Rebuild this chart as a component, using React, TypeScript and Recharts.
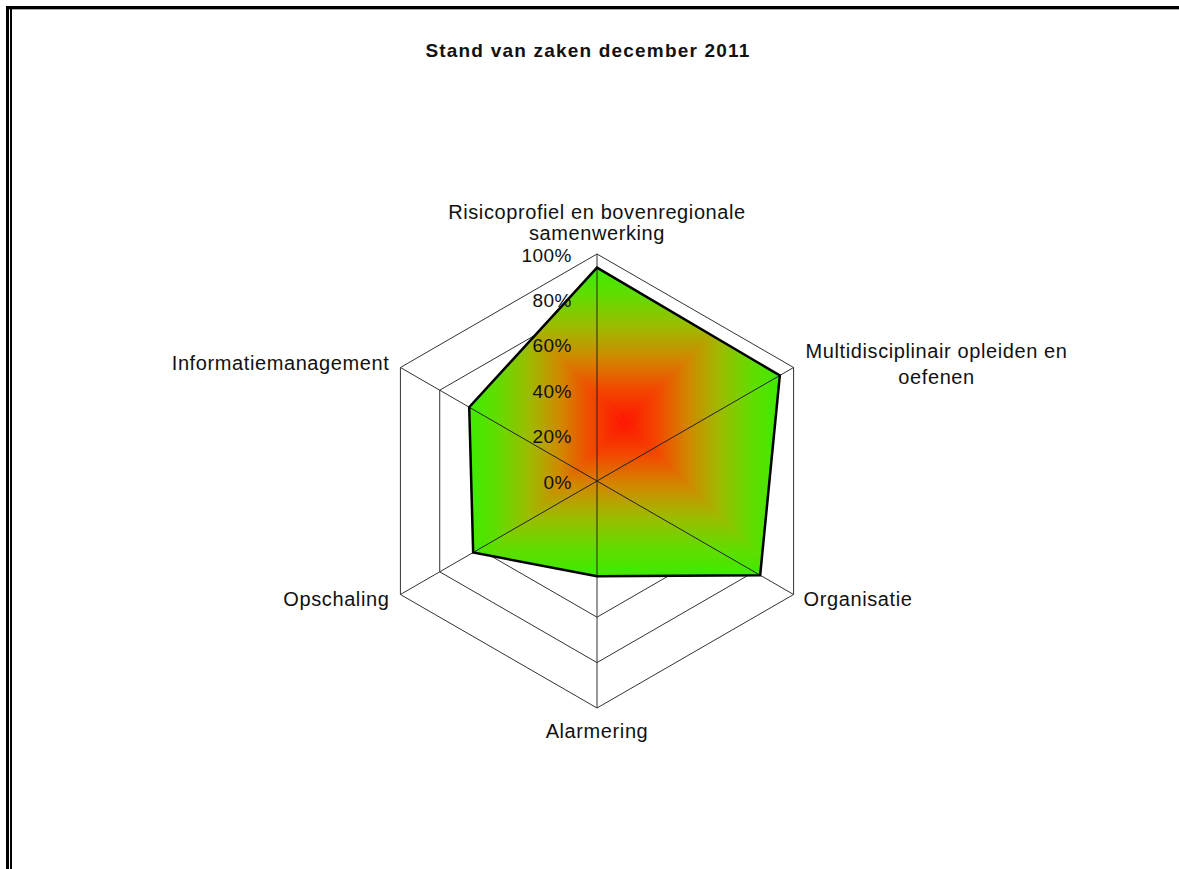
import { RadarChart, Radar, PolarGrid, PolarAngleAxis, PolarRadiusAxis } from "recharts";

const categories = [
  "Risicoprofiel en bovenregionale samenwerking",
  "Multidisciplinair opleiden en oefenen",
  "Organisatie",
  "Alarmering",
  "Opschaling",
  "Informatiemanagement",
];
const scores = [94, 93, 83, 42, 63, 65];
const radiusTicks = [0, 20, 40, 60, 80, 100];
const title = "Stand van zaken december 2011";

const CX = 597;
const CY = 481;
const R = 227;
const FONT = '"Liberation Sans", Arial, sans-serif';
const LABEL_SIZE = 20;
const LABEL_SPACING = 0.6;

const data = categories.map((name, i) => ({ name, score: scores[i] }));

let ctx: CanvasRenderingContext2D | null = null;
const textWidth = (s: string) => {
  if (!ctx) ctx = document.createElement("canvas").getContext("2d");
  if (!ctx) return s.length * 10;
  ctx.font = `${LABEL_SIZE}px ${FONT}`;
  return ctx.measureText(s).width + LABEL_SPACING * s.length;
};

// greedy word wrap, like excel does for long category names
const wrap = (s: string, max: number) => {
  const words = s.split(" ");
  const lines: string[] = [];
  let cur = "";
  for (const w of words) {
    const next = cur ? cur + " " + w : w;
    if (cur && textWidth(next) > max) {
      lines.push(cur);
      cur = w;
    } else cur = next;
  }
  if (cur) lines.push(cur);
  return lines;
};

function AngleTick(props: any) {
  // recharts hands us the point a tick-length outside the vertex, pull it back onto the ring
  const d = Math.hypot(props.x - CX, props.y - CY) || 1;
  const x = CX + ((props.x - CX) * R) / d;
  const y = CY + ((props.y - CY) * R) / d;
  const lines = wrap(String(props.payload.value), 300);
  const style = { fontFamily: FONT, fontSize: LABEL_SIZE, letterSpacing: LABEL_SPACING, fill: "#111" };
  let anchor: "start" | "middle" | "end" = "middle";
  let tx = x;
  let ys: number[] = [];
  if (Math.abs(x - CX) < 2) {
    if (y < CY) ys = lines.map((_, i) => y - 21 - (lines.length - 1 - i) * 21.5);
    else ys = lines.map((_, i) => y + 23 + i * 21.5);
  } else {
    const lh = 26;
    const mid = lines.length > 1 ? y - 3.5 : y < CY ? y - 5 : y + 4;
    ys = lines.map((_, i) => mid - ((lines.length - 1) * lh) / 2 + i * lh);
    if (x > CX) {
      if (lines.length > 1) {
        const w = Math.max(...lines.map(textWidth));
        tx = x + 12 + w / 2;
      } else {
        anchor = "start";
        tx = x + 10;
      }
    } else {
      anchor = "end";
      tx = x - 11;
    }
  }
  return (
    <g>
      {lines.map((l, i) => (
        <text key={i} x={tx} y={ys[i]} textAnchor={anchor} dominantBaseline="central" style={style}>
          {l}
        </text>
      ))}
    </g>
  );
}

function RadiusTick(props: any) {
  const { x, y, payload } = props;
  return (
    <text x={x - 25} y={y + 1} textAnchor="end" dominantBaseline="central"
      style={{ fontFamily: FONT, fontSize: 19, letterSpacing: 0.5, fill: "#111" }}>
      {payload.value}%
    </text>
  );
}

const stops = [
  [0, "#ff1400"],
  [0.22, "#f24a00"],
  [0.42, "#d08a00"],
  [0.62, "#9cbc00"],
  [0.82, "#62dc00"],
  [1, "#3cec00"],
];

function GradientShape(props: any) {
  const pts = props.points || [];
  if (!pts.length) return null;
  const xs = pts.map((p: any) => p.x);
  const ys = pts.map((p: any) => p.y);
  const x0 = Math.min(...xs), x1 = Math.max(...xs);
  const y0 = Math.min(...ys), y1 = Math.max(...ys);
  const mx = (x0 + x1) / 2, my = (y0 + y1) / 2;
  const poly = pts.map((p: any) => `${p.x},${p.y}`).join(" ");
  const grads = [
    { id: "gTop", to: [mx, y0], tri: `${mx},${my} ${x0},${y0} ${x1},${y0}` },
    { id: "gBottom", to: [mx, y1], tri: `${mx},${my} ${x0},${y1} ${x1},${y1}` },
    { id: "gLeft", to: [x0, my], tri: `${mx},${my} ${x0},${y0} ${x0},${y1}` },
    { id: "gRight", to: [x1, my], tri: `${mx},${my} ${x1},${y0} ${x1},${y1}` },
  ];
  return (
    <g>
      <defs>
        <clipPath id="radarClip">
          <polygon points={poly} />
        </clipPath>
        {grads.map((g) => (
          <linearGradient key={g.id} id={g.id} gradientUnits="userSpaceOnUse" x1={mx} y1={my} x2={g.to[0]} y2={g.to[1]}>
            {stops.map(([o, c]) => (
              <stop key={o as number} offset={o as number} stopColor={c as string} />
            ))}
          </linearGradient>
        ))}
      </defs>
      <g clipPath="url(#radarClip)">
        {grads.map((g) => (
          <polygon key={g.id} points={g.tri} fill={`url(#${g.id})`} stroke={`url(#${g.id})`} strokeWidth={1} />
        ))}
      </g>
      {pts.map((p: any, i: number) => (
        <line key={i} x1={p.cx} y1={p.cy} x2={p.x} y2={p.y} stroke="#222" strokeWidth={1} />
      ))}
      <polygon points={poly} fill="none" stroke="#000" strokeWidth={2.5} />
    </g>
  );
}

export default function App() {
  return (
    <div style={{ position: "absolute", left: 0, top: 0, width: 1179, height: 869, background: "#fff", overflow: "hidden" }}>
      <div style={{ position: "absolute", left: 6, top: 6, width: 1173, height: 3, background: "#000" }} />
      <div style={{ position: "absolute", left: 9, top: 9, width: 1170, height: 1, background: "#aaa" }} />
      <div style={{ position: "absolute", left: 6, top: 6, width: 3, height: 863, background: "#000" }} />
      <div style={{ position: "absolute", left: 10, top: 9, width: 2, height: 860, background: "#000" }} />
      <div
        style={{
          position: "absolute", left: 0, top: 41, width: 1176, textAlign: "center",
          fontFamily: FONT, fontWeight: "bold", fontSize: 19, lineHeight: "20px", letterSpacing: 1.2, color: "#111",
        }}
      >
        {title}
      </div>
      <RadarChart width={1179} height={869} data={data} cx={CX} cy={CY} outerRadius={R}
        margin={{ top: 0, right: 0, bottom: 0, left: 0 }} style={{ position: "absolute", left: 0, top: 0 }}>
        <PolarGrid gridType="polygon" stroke="#333" strokeWidth={1} />
        <PolarAngleAxis dataKey="name" tick={AngleTick} tickLine={false} axisLine={false} />
        <Radar dataKey="score" shape={GradientShape} isAnimationActive={false} />
        <PolarRadiusAxis angle={90} domain={[radiusTicks[0], radiusTicks[radiusTicks.length - 1]]}
          tickCount={radiusTicks.length} axisLine={false} tick={RadiusTick} />
      </RadarChart>
    </div>
  );
}
